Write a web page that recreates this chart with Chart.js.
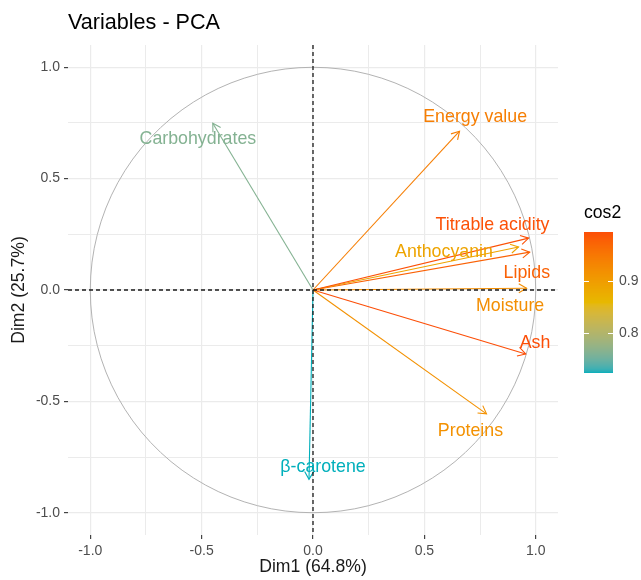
<!DOCTYPE html>
<html>
<head>
<meta charset="utf-8">
<script src="https://cdn.jsdelivr.net/npm/chart.js@4.4.1/dist/chart.umd.min.js"></script>
<style>
  html, body { margin: 0; padding: 0; background: #ffffff; }
  #wrap { width: 641px; height: 580px; }
</style>
</head>
<body>
<div id="wrap"><canvas id="c" width="641" height="580"></canvas></div>
<script>
// Variable coordinates on the first two principal components
const variables = ['Energy value', 'Carbohydrates', 'Titrable acidity', 'Anthocyanin', 'Lipids', 'Moisture', 'Ash', 'Proteins', 'β-carotene'];
const dim1 = [0.658, -0.450, 0.968, 0.923, 0.973, 0.959, 0.955, 0.779, -0.018];
const dim2 = [0.713, 0.749, 0.233, 0.193, 0.170, 0.008, -0.287, -0.556, -0.850];
const cos2 = [0.941, 0.763, 0.991, 0.889, 0.976, 0.920, 0.994, 0.916, 0.723];

// Where each variable name sits (in Dim1/Dim2 units)
const labelDim1 = [0.728, -0.517, 0.806, 0.588, 0.960, 0.885, 0.997, 0.707, 0.045];
const labelDim2 = [0.777, 0.678, 0.292, 0.171, 0.076, -0.072, -0.238, -0.633, -0.795];

// Axis ticks and colour-bar ticks
const majorTicks = [-1, -0.5, 0, 0.5, 1];
const minorTicks = [-0.75, -0.25, 0.25, 0.75];
const legendTicks = [0.8, 0.9];
const gradientColors = ['#00AFBB', '#E7B800', '#FC4E07'];

const FONT = '"Liberation Sans", Arial, "DejaVu Sans", sans-serif';

// ---- colour ramp interpolated in CIE Lab ----
function hexToRgb(h) {
  const n = parseInt(h.slice(1), 16);
  return [(n >> 16) & 255, (n >> 8) & 255, n & 255];
}
function toLin(c) { c /= 255; return c <= 0.04045 ? c / 12.92 : Math.pow((c + 0.055) / 1.055, 2.4); }
function fromLin(c) {
  const v = c <= 0.0031308 ? 12.92 * c : 1.055 * Math.pow(c, 1 / 2.4) - 0.055;
  return Math.round(Math.min(1, Math.max(0, v)) * 255);
}
function rgbToLab(rgb) {
  const R = toLin(rgb[0]), G = toLin(rgb[1]), B = toLin(rgb[2]);
  const X = (0.4124564 * R + 0.3575761 * G + 0.1804375 * B) / 0.95047;
  const Y = (0.2126729 * R + 0.7151522 * G + 0.0721750 * B);
  const Z = (0.0193339 * R + 0.1191920 * G + 0.9503041 * B) / 1.08883;
  const f = t => t > 0.008856 ? Math.cbrt(t) : 7.787 * t + 16 / 116;
  const fx = f(X), fy = f(Y), fz = f(Z);
  return [116 * fy - 16, 500 * (fx - fy), 200 * (fy - fz)];
}
function labToRgb(lab) {
  const fy = (lab[0] + 16) / 116, fx = fy + lab[1] / 500, fz = fy - lab[2] / 200;
  const inv = t => t * t * t > 0.008856 ? t * t * t : (t - 16 / 116) / 7.787;
  const X = inv(fx) * 0.95047, Y = inv(fy), Z = inv(fz) * 1.08883;
  const R = 3.2404542 * X - 1.5371385 * Y - 0.4985314 * Z;
  const G = -0.9692660 * X + 1.8760108 * Y + 0.0415560 * Z;
  const B = 0.0556434 * X - 0.2040259 * Y + 1.0572252 * Z;
  return [fromLin(R), fromLin(G), fromLin(B)];
}
const labStops = gradientColors.map(c => rgbToLab(hexToRgb(c)));
const cosMin = Math.min(...cos2), cosMax = Math.max(...cos2);
function rampColor(v) {
  let t = (v - cosMin) / (cosMax - cosMin);
  t = Math.min(1, Math.max(0, t));
  const seg = t < 0.5 ? 0 : 1;
  const lt = t < 0.5 ? t / 0.5 : (t - 0.5) / 0.5;
  const a = labStops[seg], b = labStops[seg + 1];
  const lab = [a[0] + (b[0] - a[0]) * lt, a[1] + (b[1] - a[1]) * lt, a[2] + (b[2] - a[2]) * lt];
  const rgb = labToRgb(lab);
  return 'rgb(' + rgb.join(',') + ')';
}
const varColors = cos2.map(rampColor);

// ---- one line dataset per variable arrow ----
const datasets = variables.map((name, i) => ({
  label: name,
  data: [{ x: 0, y: 0 }, { x: dim1[i], y: dim2[i] }],
  showLine: true,
  borderColor: varColors[i],
  backgroundColor: varColors[i],
  borderWidth: 1.1,
  pointRadius: 0,
  pointHoverRadius: 0,
  tension: 0
}));

const isMajor = v => majorTicks.some(m => Math.abs(m - v) < 1e-9);
const allTicks = majorTicks.concat(minorTicks).sort((a, b) => a - b);

function axisCommon() {
  return {
    type: 'linear',
    min: -1.1,
    max: 1.1,
    afterBuildTicks: s => { s.ticks = allTicks.map(v => ({ value: v })); },
    ticks: {
      autoSkip: false,
      maxRotation: 0,
      color: '#4d4d4d',
      font: { family: FONT, size: 14 },
      callback: v => isMajor(v) ? Number(v).toFixed(1) : ''
    },
    grid: {
      color: '#ebebeb',
      lineWidth: ctx => (ctx.tick && isMajor(ctx.tick.value)) ? 1.2 : 1,
      tickColor: ctx => (ctx.tick && isMajor(ctx.tick.value)) ? '#444444' : 'rgba(0,0,0,0)',
      tickLength: 4,
      drawTicks: true
    },
    border: { display: false }
  };
}

const xAxis = axisCommon();
xAxis.afterFit = s => { s.height = 45; };
xAxis.ticks.padding = 4;
xAxis.title = { display: true, text: 'Dim1 (64.8%)', color: '#1a1a1a', font: { family: FONT, size: 17.6 }, padding: { top: 0, bottom: 2 } };

const yAxis = axisCommon();
yAxis.afterFit = s => { s.width = 68; };
yAxis.ticks.padding = 4;
yAxis.title = { display: true, text: 'Dim2 (25.7%)', color: '#1a1a1a', font: { family: FONT, size: 17.6 }, padding: { top: 9, bottom: 0 } };

// ---- decorations: unit circle, zero lines, arrow heads, names, title, colour bar ----
const pcaDecor = {
  id: 'pcaDecor',
  beforeDraw(chart) {
    const ctx = chart.ctx;
    ctx.save();
    ctx.fillStyle = '#ffffff';
    ctx.fillRect(0, 0, chart.width, chart.height);
    ctx.restore();
  },
  beforeDatasetsDraw(chart) {
    const { ctx, scales: { x, y } } = chart;
    ctx.save();
    ctx.strokeStyle = '#b3b3b3';
    ctx.lineWidth = 1;
    ctx.beginPath();
    const n = 100;
    for (let k = 0; k <= n; k++) {
      const a = (k / n) * Math.PI * 2;
      const px = x.getPixelForValue(Math.cos(a)), py = y.getPixelForValue(Math.sin(a));
      if (k === 0) ctx.moveTo(px, py); else ctx.lineTo(px, py);
    }
    ctx.stroke();
    ctx.restore();
  },
  afterDatasetsDraw(chart) {
    const { ctx, chartArea: ca, scales: { x, y } } = chart;
    ctx.save();
    // arrow heads
    ctx.lineWidth = 1.1;
    for (let i = 0; i < variables.length; i++) {
      const x0 = x.getPixelForValue(0), y0 = y.getPixelForValue(0);
      const x1 = x.getPixelForValue(dim1[i]), y1 = y.getPixelForValue(dim2[i]);
      const ang = Math.atan2(y1 - y0, x1 - x0);
      const len = 9, spread = Math.PI / 6;
      ctx.strokeStyle = varColors[i];
      ctx.beginPath();
      ctx.moveTo(x1 - len * Math.cos(ang - spread), y1 - len * Math.sin(ang - spread));
      ctx.lineTo(x1, y1);
      ctx.lineTo(x1 - len * Math.cos(ang + spread), y1 - len * Math.sin(ang + spread));
      ctx.stroke();
    }
    // dashed zero lines
    ctx.strokeStyle = '#1a1a1a';
    ctx.lineWidth = 1.3;
    ctx.setLineDash([4, 3]);
    const zx = x.getPixelForValue(0), zy = y.getPixelForValue(0);
    ctx.beginPath();
    ctx.moveTo(ca.left, zy); ctx.lineTo(ca.right, zy);
    ctx.moveTo(zx, ca.top); ctx.lineTo(zx, ca.bottom);
    ctx.stroke();
    ctx.setLineDash([]);
    // variable names
    ctx.font = '17.8px ' + FONT;
    ctx.textAlign = 'center';
    ctx.textBaseline = 'middle';
    for (let i = 0; i < variables.length; i++) {
      ctx.fillStyle = varColors[i];
      ctx.fillText(variables[i], x.getPixelForValue(labelDim1[i]), y.getPixelForValue(labelDim2[i]));
    }
    ctx.restore();
  },
  afterDraw(chart) {
    const ctx = chart.ctx;
    ctx.save();
    // plot title
    ctx.fillStyle = '#000000';
    ctx.font = '21.6px ' + FONT;
    ctx.textAlign = 'left';
    ctx.textBaseline = 'middle';
    ctx.fillText('Variables - PCA', 68, 23);
    // colour bar
    const bx = 584, bw = 29, bTop = 232, bBot = 373;
    const yOf = v => bTop + (cosMax - v) / (cosMax - cosMin) * (bBot - bTop);
    for (let py = bTop; py < bBot; py++) {
      const v = cosMax - (py + 0.5 - bTop) / (bBot - bTop) * (cosMax - cosMin);
      ctx.fillStyle = rampColor(v);
      ctx.fillRect(bx, py, bw, 1);
    }
    ctx.strokeStyle = '#ffffff';
    ctx.lineWidth = 1;
    legendTicks.forEach(v => {
      const py = Math.round(yOf(v)) + 0.5;
      ctx.beginPath();
      ctx.moveTo(bx, py); ctx.lineTo(bx + 5, py);
      ctx.moveTo(bx + bw - 5, py); ctx.lineTo(bx + bw, py);
      ctx.stroke();
    });
    ctx.fillStyle = '#000000';
    ctx.font = '17.6px ' + FONT;
    ctx.fillText('cos2', 584, 213);
    ctx.fillStyle = '#4d4d4d';
    ctx.font = '14px ' + FONT;
    legendTicks.forEach(v => {
      ctx.fillText(v.toFixed(1), 619, yOf(v));
    });
    ctx.restore();
  }
};

new Chart(document.getElementById('c'), {
  type: 'scatter',
  data: { datasets },
  options: {
    responsive: false,
    devicePixelRatio: 1,
    animation: false,
    layout: { padding: { left: 0, top: 45, right: 83, bottom: 0 } },
    plugins: { legend: { display: false }, tooltip: { enabled: false }, title: { display: false } },
    scales: { x: xAxis, y: yAxis }
  },
  plugins: [pcaDecor]
});
</script>
</body>
</html>
